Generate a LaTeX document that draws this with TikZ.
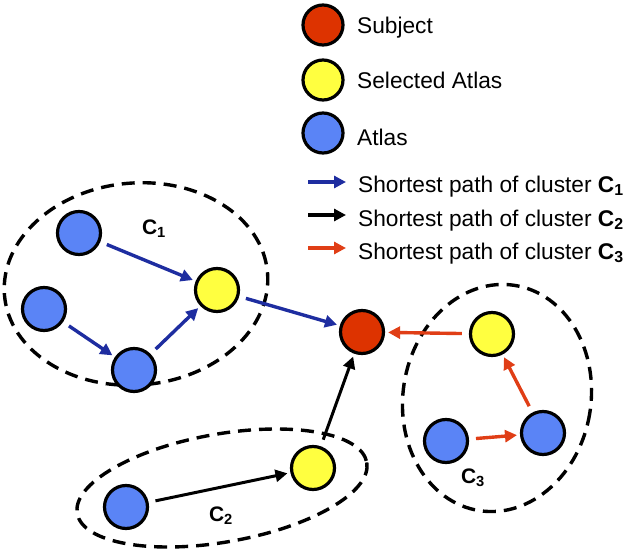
\documentclass[tikz,border=0pt]{standalone}
\usepackage{fontspec}
\setmainfont{Liberation Sans}
\usetikzlibrary{arrows.meta}
\definecolor{subjred}{RGB}{221,51,0}
\definecolor{selyellow}{RGB}{255,255,64}
\definecolor{atlasblue}{RGB}{90,132,246}
\definecolor{pathblue}{RGB}{30,45,160}
\definecolor{pathred}{RGB}{224,62,22}
\tikzset{
  dot/.style={circle,draw=black,line width=3.2pt,minimum size=43pt,inner sep=0pt},
  legdot/.style={dot,minimum size=40pt},
  subj/.style={fill=subjred},
  sel/.style={fill=selyellow},
  atl/.style={fill=atlasblue},
  pth/.style={line width=3.4pt,-{Triangle[length=12pt,width=12pt]},shorten <=7pt,shorten >=3pt},
  legpth/.style={line width=3.4pt,-{Triangle[length=12pt,width=12pt]}},
  cluster/.style={draw=black,line width=3.4pt,dash pattern=on 13pt off 8pt},
  legtxt/.style={anchor=base west,inner sep=0pt,font=\fontsize{22.7}{27}\selectfont},
  clab/.style={inner sep=0pt,font=\fontsize{21}{24}\selectfont\bfseries}
}
\begin{document}
\begin{tikzpicture}[x=1pt,y=-1pt]
\useasboundingbox (0,0) rectangle (630,549);
% clusters
\draw[cluster,rotate around={5:(136,284)}] (136,284) ellipse [x radius=132,y radius=101];
\draw[cluster,rotate around={10:(222,488)}] (222,488) ellipse [x radius=147,y radius=54];
\draw[cluster,rotate around={-9:(497,398)}] (497,398) ellipse [x radius=94,y radius=114];
% legend
\node[legdot,subj] (ls) at (323,25) {};
\node[legdot,sel] (ly) at (323,80) {};
\node[legdot,atl] (lb) at (323,133) {};
\node[legtxt] (lst) at (357,33) {Subject};
\node[legtxt] (lyt) at (357,88) {Selected Atlas};
\node[legtxt] (lbt) at (357,145) {Atlas};
\coordinate (la1) at (308,182); \coordinate (lb1) at (346,182);
\coordinate (la2) at (308,215); \coordinate (lb2) at (346,215);
\coordinate (la3) at (308,248); \coordinate (lb3) at (346,248);
\draw[legpth,pathblue] (la1) -- (lb1);
\draw[legpth,black] (la2) -- (lb2);
\draw[legpth,pathred] (la3) -- (lb3);
\node[legtxt] (lt1) at (358,192) {Shortest path of cluster \textbf{C\textsubscript{1}}};
\node[legtxt] (lt2) at (358,226) {Shortest path of cluster \textbf{C\textsubscript{2}}};
\node[legtxt] (lt3) at (358,259) {Shortest path of cluster \textbf{C\textsubscript{3}}};
% nodes
\node[dot,subj] (s) at (362,332) {};
\node[dot,atl] (a1) at (79,233) {};
\node[dot,atl] (a2) at (44,309) {};
\node[dot,atl] (a3) at (134,370) {};
\node[dot,sel] (y1) at (217,290) {};
\node[dot,atl] (b1) at (126,507) {};
\node[dot,sel] (y2) at (313,468) {};
\node[dot,atl] (c1) at (446,441) {};
\node[dot,atl] (c2) at (543,433) {};
\node[dot,sel] (y3) at (492,334) {};
% labels
\node[clab] (l1) at (154,229) {C\textsubscript{1}};
\node[clab] (l2) at (221,516) {C\textsubscript{2}};
\node[clab] (l3) at (473,478) {C\textsubscript{3}};
% paths
\draw[pth,pathblue] (a1) -- (y1);
\draw[pth,pathblue] (a2) -- (a3);
\draw[pth,pathblue] (a3) -- (y1);
\draw[pth,pathblue] (y1) -- (s);
\draw[pth,black,line width=3pt] (b1) -- (y2);
\draw[pth,black,line width=3pt] (y2) -- (s);
\draw[pth,pathred] (c1) -- (c2);
\draw[pth,pathred] (c2) -- (y3);
\draw[pth,pathred] (y3) -- (s);
\end{tikzpicture}
\end{document}
